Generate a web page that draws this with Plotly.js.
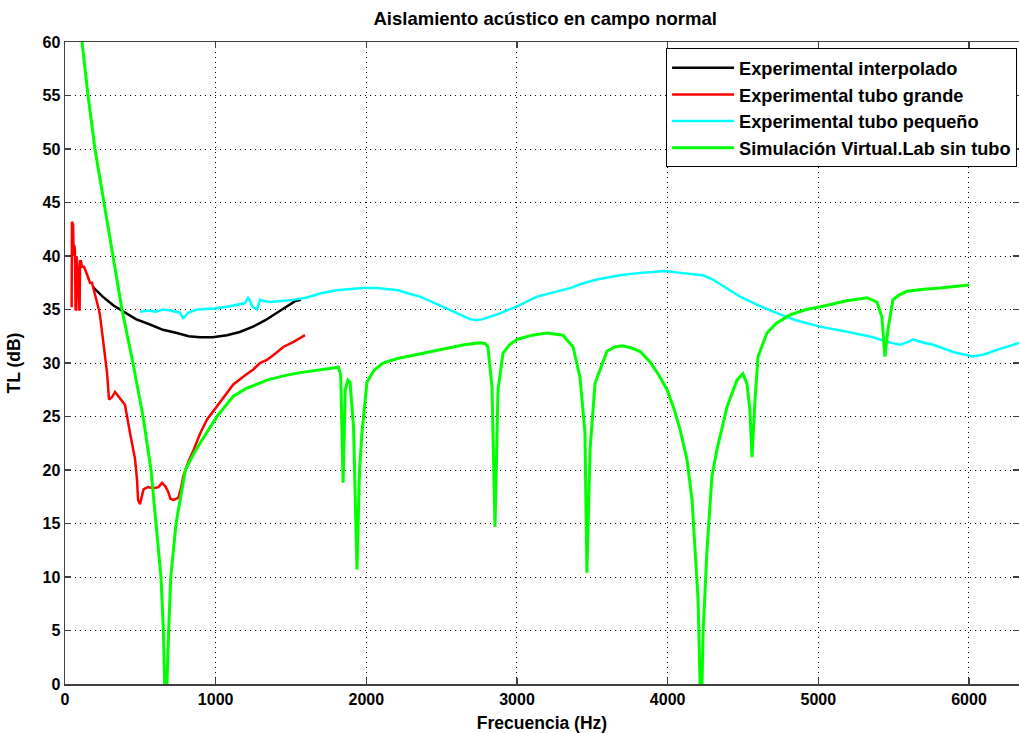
<!DOCTYPE html>
<html>
<head>
<meta charset="utf-8">
<script src="https://cdn.plot.ly/plotly-3.0.1.min.js"></script>
<style>html,body{margin:0;padding:0;background:#fff;}#chart{width:1019px;height:733px;}</style>
</head>
<body>
<div id="chart"></div>
<script>
// Experimental interpolado
const blackFreq = [186, 250, 320, 385, 470, 564, 650, 743, 820, 896, 980, 1075, 1160, 1248, 1330, 1407, 1480, 1530, 1565];
const blackTL   = [37.1, 36.2, 35.4, 34.8, 34.1, 33.6, 33.1, 32.8, 32.5, 32.4, 32.4, 32.6, 32.9, 33.4, 34.0, 34.7, 35.4, 35.8, 35.9];

// Experimental tubo grande
const redFreq = [44, 46, 53, 58, 62, 66, 70, 73, 76, 80, 86, 93, 97, 100, 106, 113, 126, 140, 153, 166, 179, 199, 219, 232, 252, 279, 292, 312, 332, 360, 380, 398, 431, 445, 465, 478, 485, 498, 510, 521, 550, 587, 620, 644, 665, 684, 700, 720, 752, 770, 785, 820, 854, 900, 942, 1000, 1060, 1117, 1200, 1250, 1294, 1340, 1380, 1449, 1520, 1593];
const redTL   = [35.2, 43.2, 43.0, 40.0, 41.0, 40.5, 35.0, 35.0, 40.0, 39.5, 38.5, 35.0, 35.0, 39.5, 39.5, 39.0, 39.0, 38.5, 38.0, 37.5, 37.5, 36.5, 35.3, 34.5, 32.2, 29.1, 26.6, 26.8, 27.3, 26.8, 26.5, 26.1, 23.5, 22.3, 21.0, 19.1, 17.2, 16.8, 17.5, 18.2, 18.4, 18.3, 18.4, 18.8, 18.5, 18.0, 17.3, 17.2, 17.4, 18.3, 19.4, 20.8, 21.9, 23.5, 24.7, 25.8, 27.0, 28.0, 28.9, 29.4, 30.0, 30.3, 30.7, 31.5, 32.0, 32.6];

// Experimental tubo pequeño
const cyanFreq = [498, 550, 600, 650, 700, 763, 783, 800, 817, 876, 996, 1095, 1195, 1215, 1230, 1241, 1274, 1294, 1320, 1361, 1440, 1513, 1600, 1692, 1800, 1978, 2071, 2150, 2210, 2280, 2356, 2470, 2575, 2688, 2730, 2774, 2880, 3000, 3133, 3250, 3352, 3450, 3531, 3684, 3800, 3903, 3980, 4100, 4235, 4300, 4390, 4480, 4600, 4700, 4850, 5010, 5200, 5365, 5450, 5542, 5600, 5630, 5700, 5763, 5900, 6027, 6100, 6200, 6340];
const cyanTL   = [34.8, 34.9, 34.8, 35.0, 34.9, 34.7, 34.2, 34.4, 34.7, 35.0, 35.1, 35.3, 35.6, 36.1, 35.8, 35.3, 35.0, 35.9, 35.8, 35.7, 35.8, 35.9, 36.1, 36.5, 36.8, 37.0, 37.0, 36.9, 36.8, 36.5, 36.2, 35.5, 34.8, 34.1, 34.0, 34.1, 34.6, 35.3, 36.2, 36.6, 37.0, 37.5, 37.8, 38.2, 38.4, 38.5, 38.6, 38.4, 38.2, 37.8, 37.0, 36.2, 35.4, 34.8, 34.0, 33.4, 32.9, 32.4, 32.0, 31.7, 32.0, 32.2, 31.9, 31.7, 31.0, 30.6, 30.8, 31.3, 31.9];

// Simulación Virtual.Lab sin tubo
const greenFreq = [113, 153, 199, 259, 318, 378, 451, 518, 571, 604, 637, 653, 660, 665, 672, 676, 688, 702, 737, 799, 850, 900, 950, 1009, 1117, 1200, 1340, 1450, 1560, 1700, 1779, 1815, 1830, 1846, 1860, 1878, 1892, 1915, 1938, 1955, 1971, 2004, 2050, 2111, 2200, 2336, 2450, 2555, 2650, 2754, 2790, 2807, 2834, 2854, 2874, 2907, 2950, 3000, 3100, 3199, 3305, 3372, 3418, 3451, 3464, 3485, 3518, 3597, 3650, 3700, 3760, 3816, 3883, 3940, 3996, 4040, 4082, 4128, 4162, 4182, 4202, 4215, 4221, 4228, 4235, 4261, 4294, 4327, 4394, 4460, 4500, 4526, 4546, 4560, 4580, 4600, 4659, 4720, 4812, 4920, 5031, 5180, 5323, 5389, 5422, 5442, 5462, 5495, 5530, 5588, 5700, 5807, 6000];
const greenTL   = [60.0, 55.0, 50.0, 45.0, 40.0, 35.0, 30.0, 25.0, 20.0, 15.0, 10.0, 5.0, 0.0, -2.0, -2.0, 0.0, 5.0, 10.0, 15.0, 20.0, 21.4, 22.6, 23.7, 25.0, 26.9, 27.6, 28.4, 28.8, 29.1, 29.4, 29.5, 29.6, 28.9, 18.8, 27.5, 28.4, 28.2, 24.0, 10.7, 20.0, 23.5, 28.2, 29.3, 30.0, 30.4, 30.8, 31.1, 31.4, 31.7, 31.9, 31.8, 31.5, 27.8, 14.7, 27.5, 30.9, 31.7, 32.2, 32.6, 32.8, 32.6, 31.5, 28.7, 23.5, 10.4, 21.9, 28.1, 31.1, 31.5, 31.6, 31.4, 31.1, 30.1, 28.9, 27.5, 25.8, 23.8, 21.0, 17.2, 12.5, 7.9, 0.0, -2.0, 0.0, 4.8, 12.5, 19.4, 21.9, 25.9, 28.4, 29.0, 28.1, 25.6, 21.2, 26.6, 30.6, 32.8, 33.7, 34.5, 35.0, 35.3, 35.8, 36.1, 35.7, 34.3, 30.6, 33.1, 35.9, 36.3, 36.7, 36.9, 37.0, 37.3];

const xTicks = [0, 1000, 2000, 3000, 4000, 5000, 6000];
const yTicks = [0, 5, 10, 15, 20, 25, 30, 35, 40, 45, 50, 55, 60];

const FONT = 'Liberation Sans, Arial, sans-serif';

const traces = [
  {x: blackFreq, y: blackTL, name: 'Experimental interpolado', mode: 'lines', line: {color: '#000000', width: 2.5}},
  {x: redFreq, y: redTL, name: 'Experimental tubo grande', mode: 'lines', line: {color: '#ff0000', width: 2.5}},
  {x: cyanFreq, y: cyanTL, name: 'Experimental tubo pequeño', mode: 'lines', line: {color: '#00ffff', width: 2.5}},
  {x: greenFreq, y: greenTL, name: 'Simulación Virtual.Lab sin tubo', mode: 'lines', line: {color: '#00ff00', width: 3}}
];

const axisCommon = {
  showline: true, linecolor: '#404040', linewidth: 1.5, mirror: 'ticks',
  ticks: 'inside', ticklen: 6, tickcolor: '#404040', tickwidth: 1.5,
  showgrid: true, gridcolor: '#000000', gridwidth: 1, griddash: '1px,4px',
  zeroline: false,
  tickfont: {family: FONT, size: 16, color: '#000000', weight: 'bold'}
};

const layout = {
  width: 1019, height: 733,
  margin: {l: 65, r: 0, t: 42, b: 49},
  paper_bgcolor: '#ffffff', plot_bgcolor: '#ffffff',
  title: {text: 'Aislamiento acústico en campo normal', x: 0.535, xanchor: 'center', y: 0.975, yanchor: 'middle',
          font: {family: FONT, size: 18.5, color: '#000000', weight: 'bold'}},
  xaxis: Object.assign({}, axisCommon, {
    range: [0, 6332], tickvals: xTicks, ticktext: xTicks.map(String),
    title: {text: 'Frecuencia (Hz)', standoff: 10, font: {family: FONT, size: 17.5, color: '#000000', weight: 'bold'}}
  }),
  yaxis: Object.assign({}, axisCommon, {
    range: [0, 60], tickvals: yTicks, ticktext: yTicks.map(String),
    title: {text: 'TL (dB)', standoff: 17, font: {family: FONT, size: 17.5, color: '#000000', weight: 'bold'}}
  }),
  showlegend: true,
  legend: {
    x: 0.998, xanchor: 'right', y: 0.99, yanchor: 'top',
    bgcolor: '#ffffff', bordercolor: '#000000', borderwidth: 1,
    font: {family: FONT, size: 18.2, color: '#000000', weight: 'bold'},
    itemwidth: 62
  }
};

Plotly.newPlot('chart', traces, layout, {displayModeBar: false, staticPlot: true});
</script>
</body>
</html>
